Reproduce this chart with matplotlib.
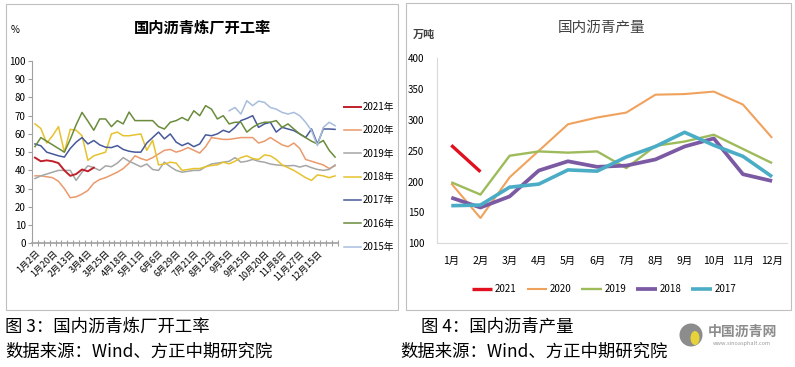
import numpy as np
import matplotlib
matplotlib.use("Agg")
import matplotlib.pyplot as plt
from matplotlib.patches import Rectangle, Ellipse

plt.rcParams['font.family'] = ['Noto Sans CJK SC', 'DejaVu Sans']

# ---- left chart: weekly refinery operating rate (%) ----
week_labels = ['1月2日', '1月20日', '2月13日', '3月4日', '3月25日', '4月18日', '5月11日',
               '6月6日', '6月29日', '7月21日', '8月12日', '9月5日', '9月25日', '10月20日',
               '11月8日', '11月27日', '12月15日']
n_weeks = 52

r2021 = [47, 45, 45.5, 45, 44, 40, 37, 38, 40.5, 39.5, 41.5]
r2020 = [37, 37, 36.5, 36, 34, 30, 25, 25.5, 27, 29,
         33, 35, 36, 37.5, 39, 41, 44, 48, 46.5, 45.5,
         47, 49, 51, 51.5, 50, 51, 52.5, 51, 49.5, 53,
         58, 57.5, 57, 57, 57.5, 58, 58, 58, 55, 56,
         58, 56, 54, 53, 55, 52, 46, 45, 44, 43,
         41, 42.5]
r2019 = [35.5, 37, 38, 39, 40, 40, 40, 34.5, 39, 42.5,
         41.5, 40, 42.5, 42, 44, 47, 45, 43.5, 42, 43.5,
         40.5, 40, 44.5, 42, 40, 39, 39.5, 40, 40, 42,
         43.5, 44, 44.5, 45, 47, 44.5, 45, 46, 45, 44.5,
         43.5, 43, 42.7, 42.5, 42.7, 41.8, 42.7, 41.5, 40.5, 40,
         40.5, 43]
r2018 = [65.5, 63, 55, 59, 64, 50, 62.5, 62, 59, 45.5,
         48, 49, 50, 60, 61, 59, 59, 59.5, 60, 51,
         56.5, 43, 43.5, 44.5, 44, 40, 40.5, 41, 41, 42,
         42.7, 43, 44.5, 43.6, 45, 47, 48, 46.5, 46, 48.5,
         48, 46, 43, 41.5, 40, 38, 36, 34.5, 37.5, 37,
         36, 37]
r2017 = [54.5, 53.5, 50, 49, 48, 47.3, 52, 55.5, 58, 54.5,
         56.4, 54, 52.7, 52.5, 53.6, 51.5, 50.5, 50, 50, 55,
         58, 61, 57.3, 60, 55.5, 53.6, 55, 53, 54.5, 59.5,
         59, 60, 62, 60.9, 63.6, 67.3, 68.5, 70, 63.6, 65.5,
         66.4, 61, 63.6, 62.7, 61.8, 60, 58, 62.7, 54.5, 62.7,
         62.7, 62.5]
r2016 = [53, 58, 56, 54, 52, 50, 57, 65, 71.8, 67,
         62, 68.2, 68.2, 64, 67.3, 65.5, 72, 67.3, 67.3, 67.3,
         67.3, 64, 62.7, 66.4, 67.3, 69, 67.3, 72.7, 70, 75.5,
         73.6, 68.2, 70, 65.5, 66.4, 66.4, 61, 63.6, 65.5, 66.4,
         66.4, 67.3, 63.6, 65.5, 62.7, 60, 58, 56, 54.5, 56.4,
         51, 47.3]
r2015 = [None] * 33 + [72.7, 74.5, 70.9, 78.2, 75.5, 78, 77.3, 74.5, 73.6, 71.8,
                       70.9, 71.8, 70, 66.4, 61.8, 53.6, 63.6, 66.4, 64.5]

rate_years = ['2021年', '2020年', '2019年', '2018年', '2017年', '2016年', '2015年']
rate_series = [r2021, r2020, r2019, r2018, r2017, r2016, r2015]
rate_colors = ['#C0202A', '#EA9A6C', '#A6A6A6', '#E6C22E', '#46599A', '#6A8C3C', '#A8BDDC']

# ---- right chart: monthly output (10k tons) ----
months = ['1月', '2月', '3月', '4月', '5月', '6月', '7月', '8月', '9月', '10月', '11月', '12月']
p2021 = [259, 216]
p2020 = [197, 141, 207, 250, 293, 304, 312, 341, 342, 346, 325, 271]
p2019 = [199, 179, 242, 249, 247, 249, 222, 258, 265, 276, 253, 230]
p2018 = [174, 158, 176, 218, 233, 224, 226, 236, 257, 270, 212, 201]
p2017 = [161, 162, 191, 196, 219, 217, 240, 257, 280, 259, 241, 208]
prod_years = ['2021', '2020', '2019', '2018', '2017']
prod_series = [p2021, p2020, p2019, p2018, p2017]
prod_colors = ['#E0101E', '#F0A25C', '#9DBB5A', '#7B5AA3', '#4BACC6']
prod_widths = [2.4, 1.5, 1.7, 2.7, 2.6]

W, H = 795, 367


def fx(x):
    return x / W


def fy(y):
    return 1 - y / H


fig = plt.figure(figsize=(W / 100, H / 100), dpi=100)

# frames around the two panels
for x0, y0, x1, y1 in [(6, 4, 398, 310), (406, 3, 791, 310)]:
    fig.add_artist(Rectangle((fx(x0), fy(y1)), fx(x1) - fx(x0), fy(y0) - fy(y1),
                             transform=fig.transFigure, fill=False,
                             edgecolor='#BFBFBF', lw=0.8))

# ---------------- left panel ----------------
ax1 = fig.add_axes([fx(32), fy(243.3), fx(338) - fx(32), fy(61) - fy(243.3)])
weeks = np.arange(n_weeks)
handles = []
for name, vals, col in zip(rate_years, rate_series, rate_colors):
    y = np.array([np.nan if v is None else v for v in vals], dtype=float)
    lw = 1.4 if name == '2021年' else 1.1
    h, = ax1.plot(weeks[:len(y)], y, color=col, lw=lw, label=name)
    handles.append(h)
# red on top
handles[0].set_zorder(5)

ax1.set_xlim(-0.5, n_weeks - 0.5)
ax1.set_ylim(0, 100)
ax1.set_yticks(np.arange(0, 101, 10))
ax1.set_xticks(np.arange(0, 3 * len(week_labels), 3))
ax1.set_xticklabels(week_labels, rotation=45, ha='right', va='top',
                    rotation_mode='anchor', fontsize=6.5)
ax1.set_xticks(np.arange(-0.5, n_weeks, 1), minor=True)
ax1.tick_params(axis='x', which='major', length=0, pad=4)
ax1.tick_params(axis='x', which='minor', length=4, direction='inout', color='#A0A0A0', width=0.8)
ax1.tick_params(axis='y', length=3, color='#A0A0A0', labelsize=7, pad=1.5)
for s in ['top', 'right']:
    ax1.spines[s].set_visible(False)
ax1.spines['left'].set_color('#A0A0A0')
ax1.spines['bottom'].set_color('#A0A0A0')
ax1.spines['bottom'].set_linewidth(1.2)

ax1.legend(handles=handles, loc='center left', bbox_to_anchor=(fx(344), fy(177)),
           bbox_transform=fig.transFigure, frameon=False, fontsize=7,
           handlelength=1.7, handletextpad=0.25, labelspacing=1.37,
           borderpad=0, borderaxespad=0)

fig.text(fx(202), fy(28), '国内沥青炼厂开工率', fontsize=11, fontweight='bold',
         ha='center', va='center')
fig.text(fx(15), fy(30), '%', fontsize=7, ha='center', va='center')

# ---------------- right panel ----------------
ax2 = fig.add_axes([fx(436.7), fy(243.3), fx(786.7) - fx(436.7), fy(58.3) - fy(243.3)])
mx = np.arange(len(months))
for name, vals, col, lw in zip(prod_years, prod_series, prod_colors, prod_widths):
    ax2.plot(mx[:len(vals)], vals, color=col, lw=lw, label=name, solid_capstyle='butt')
ax2.set_xlim(-0.5, len(months) - 0.5)
ax2.set_ylim(100, 400)
ax2.set_yticks(np.arange(100, 401, 50))
ax2.set_xticks(mx)
ax2.set_xticklabels(months, fontsize=7.5)
ax2.tick_params(axis='x', length=0, pad=9)
ax2.tick_params(axis='y', length=0, pad=9, labelsize=7)
for s in ['top', 'right']:
    ax2.spines[s].set_visible(False)
ax2.spines['left'].set_color('#D9D9D9')
ax2.spines['bottom'].set_color('#D9D9D9')
ax2.legend(loc='center', bbox_to_anchor=(fx(604), fy(289)), bbox_transform=fig.transFigure,
           ncol=5, frameon=False, fontsize=7, handlelength=2.1, handletextpad=0.3,
           columnspacing=1.0, borderpad=0, borderaxespad=0)

fig.text(fx(602), fy(28), '国内沥青产量', fontsize=10.5, ha='center', va='center', color='#404040')
fig.text(fx(424), fy(34), '万吨', fontsize=8, fontweight='bold', ha='center', va='center', color='#404040')

# ---------------- captions ----------------
fig.text(fx(5), fy(327), '图 3：国内沥青炼厂开工率', fontsize=12.5, ha='left', va='center')
fig.text(fx(5), fy(352), '数据来源：Wind、方正中期研究院', fontsize=12.5, ha='left', va='center')
fig.text(fx(421), fy(327), '图 4：国内沥青产量', fontsize=12.5, ha='left', va='center')
fig.text(fx(400), fy(352), '数据来源：Wind、方正中期研究院', fontsize=12.5, ha='left', va='center')

# watermark logo
fig.add_artist(Ellipse((fx(691), fy(335)), 23 / W, 23 / H, transform=fig.transFigure,
                       facecolor='#8C8C8C', edgecolor='none'))
fig.add_artist(Ellipse((fx(695), fy(338)), 9 / W, 14 / H, angle=0, transform=fig.transFigure,
                       facecolor='#E8D23A', edgecolor='none'))
fig.text(fx(742), fy(332), '中国沥青网', fontsize=10, fontweight='bold', color='#8C8C8C',
         ha='center', va='center')
fig.text(fx(742), fy(344), 'www.sinoasphalt.com', fontsize=4, color='#9A9A9A',
         ha='center', va='center')

fig.savefig('out.png', dpi=100)
